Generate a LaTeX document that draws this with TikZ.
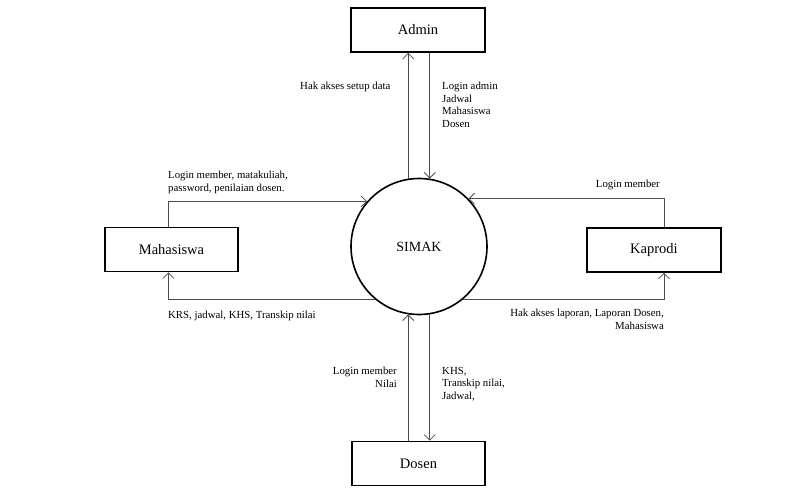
\documentclass[tikz,border=0pt]{standalone}
\usepackage{fontspec}
\setmainfont{Liberation Serif}
\usetikzlibrary{shapes, arrows.meta, positioning, calc}

\tikzset{
    entitas/.style={draw, line width=1.6pt, minimum height=44pt, inner sep=0pt, font=\fontsize{14.5}{16}\selectfont},
    proses/.style={draw, circle, line width=1.6pt, minimum size=136pt, inner sep=0pt, font=\fontsize{14}{16}\selectfont},
    alir/.style={draw=black!70, line width=0.8pt, -{Straight Barb[length=5.5pt,width=11pt]}},
    ket/.style={inner sep=0pt, font=\fontsize{10.8}{12.5}\selectfont},
}

\begin{document}
\begin{tikzpicture}[x=1pt, y={(0pt,-1pt)}]
    \useasboundingbox (0,0) rectangle (790,492);

    % proses utama
    \node[proses] (simak) at (419,246.5) {SIMAK};

    % entitas luar
    \node[entitas, minimum width=134pt] (admin) at (418,30) {Admin};
    \node[entitas, minimum width=133pt] (maha) at (171.5,249.5) {Mahasiswa};
    \node[entitas, minimum width=134pt] (kaprodi) at (654,250) {Kaprodi};
    \node[entitas, minimum width=133pt] (dosen) at (418.5,463.5) {Dosen};

    \coordinate (mahaAtas) at ([xshift=-3pt]maha.north);
    \coordinate (mahaBawah) at ([xshift=-3pt]maha.south);
    \coordinate (kapAtas) at ([xshift=10pt]kaprodi.north);
    \coordinate (kapBawah) at ([xshift=10pt]kaprodi.south);

    % Admin
    \draw[alir] (simak.99) -- (simak.99 |- admin.south);
    \draw[alir] (simak.81 |- admin.south) -- (simak.81);
    \node[ket, anchor=west] (hakSetup) at (300,87) {Hak akses setup data};
    \node[ket, anchor=north west, align=left] (loginAdmin) at (442,82) {Login admin\\Jadwal\\Mahasiswa\\Dosen};

    % Mahasiswa
    \draw[alir] (mahaAtas) |- (simak.139);
    \draw[alir] (simak.230) -| (mahaBawah);
    \node[ket, anchor=north west, align=left] (loginMaha) at (168,171) {Login member, matakuliah,\\password, penilaian dosen.};
    \node[ket, anchor=west] (krs) at (168,316) {KRS, jadwal, KHS, Transkip nilai};

    % Kaprodi
    \draw[alir] (kapAtas) |- (simak.44);
    \draw[alir] (simak.310) -| (kapBawah);
    \node[ket, anchor=east] (loginKap) at (660,185) {Login member};
    \node[ket, anchor=north east, align=right] (laporan) at (664,309) {Hak akses laporan, Laporan Dosen,\\Mahasiswa};

    % Dosen
    \draw[alir] (simak.261 |- dosen.north) -- (simak.261);
    \draw[alir] (simak.279) -- (simak.279 |- dosen.north);
    \node[ket, anchor=north east, align=right] (loginDosen) at (397,367) {Login member\\Nilai};
    \node[ket, anchor=north west, align=left] (khs) at (442,367) {KHS,\\Transkip nilai,\\Jadwal,};

\end{tikzpicture}
\end{document}
